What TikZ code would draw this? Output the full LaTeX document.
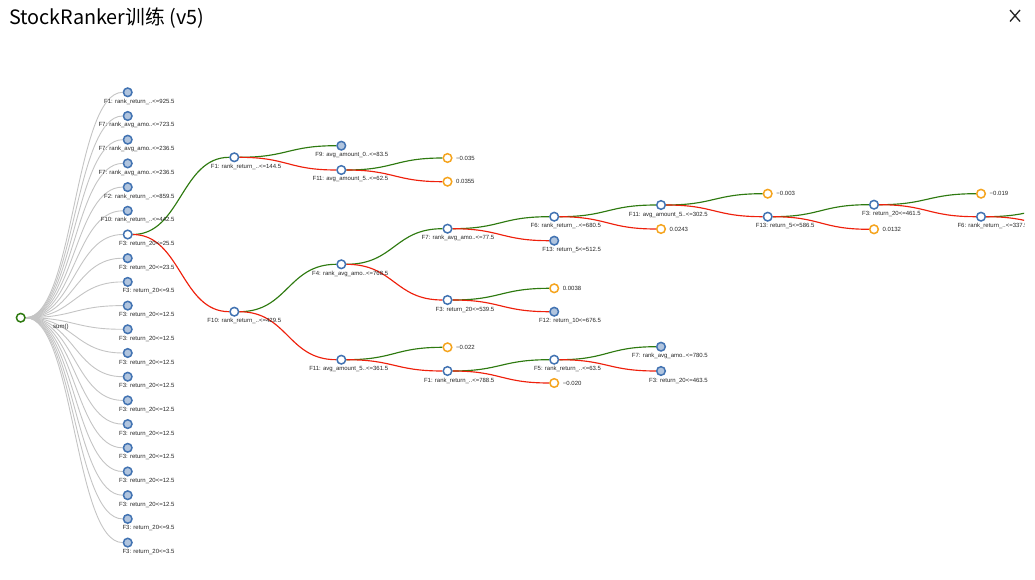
\documentclass[tikz,border=0pt]{standalone}
\usepackage{fontspec}
\setmainfont{Liberation Sans}
\newfontfamily\cjk{Noto Sans CJK SC}
\usetikzlibrary{calc,backgrounds}

\definecolor{yescol}{RGB}{46,122,16}
\definecolor{nocol}{RGB}{238,32,12}
\definecolor{nodeblue}{RGB}{66,115,178}
\definecolor{nodefill}{RGB}{176,196,222}
\definecolor{leafcol}{RGB}{245,164,30}
\definecolor{edgegray}{RGB}{196,196,196}

\begin{document}
\begin{tikzpicture}[x=1pt, y=-1pt,
  every node/.style={inner sep=0pt, text=black!85},
  split/.style={circle, draw=nodeblue, fill=white, line width=1.5pt, minimum size=8.6pt},
  feat/.style={split, fill=nodefill},
  leaf/.style={split, draw=leafcol},
  rootnode/.style={split, draw=yescol},
  lbl/.style={font=\fontsize{6}{7}\selectfont, anchor=base east},
  val/.style={font=\fontsize{6}{7}\selectfont, anchor=base west},
  yes/.style={draw=yescol, line width=1.15pt},
  no/.style={draw=nocol, line width=1.15pt},
  grey/.style={draw=edgegray, line width=0.9pt},
  diag/.style={to path={let \p1=(\tikztostart), \p2=(\tikztotarget) in
    .. controls ({(\x1+\x2)/2},\y1) and ({(\x1+\x2)/2},\y2) .. (\tikztotarget)}},
  col7/.style={fill=white}]
\useasboundingbox (0,0) rectangle (1035,580);
\clip (0,0) rectangle (1024,580);

% title and close mark
\node[anchor=base west, font=\cjk\fontsize{19.8}{24}\selectfont, text=black] (title) at (9,25) {StockRanker训练 (v5)};
\draw[line width=1.3pt, black!85] (1010,10) -- (1020,21.5) (1020,10) -- (1010,21.5);

% root and first column
\node[rootnode] (root) at (20.7,317.7) {};
\node[val] (sumt) at (53,328) {sum()};
\foreach \t [count=\i] in {F1: rank\_return\_..<=925.5, F7: rank\_avg\_amo..<=723.5,
  F7: rank\_avg\_amo..<=236.5, F7: rank\_avg\_amo..<=236.5, F2: rank\_return\_..<=859.5,
  F10: rank\_return\_..<=442.5, F3: return\_20<=25.5, F3: return\_20<=23.5,
  F3: return\_20<=9.5, F3: return\_20<=12.5, F3: return\_20<=12.5, F3: return\_20<=12.5,
  F3: return\_20<=12.5, F3: return\_20<=12.5, F3: return\_20<=12.5, F3: return\_20<=12.5,
  F3: return\_20<=12.5, F3: return\_20<=12.5, F3: return\_20<=9.5, F3: return\_20<=3.5} {
  \node[feat, col\i/.try] (c\i) at (127.7,{92.3+23.7*(\i-1)}) {};
  \node[lbl] (cl\i) at ($(c\i)+(47,11)$) {\t};
}

% split nodes of the tree
\foreach \n/\x/\y/\s/\t in {b1/234.3/157.3/split/F1: rank\_return\_..<=144.5,
  b2/234.3/311.7/split/F10: rank\_return\_..<=429.5,
  d1/341.3/145.7/feat/F9: avg\_amount\_0..<=83.5,
  d2/341.3/170/split/F11: avg\_amount\_5..<=62.5,
  d3/341.3/264.3/split/F4: rank\_avg\_amo..<=768.5,
  d4/341.3/359.7/split/F11: avg\_amount\_5..<=361.5,
  e3/447.5/228.7/split/F7: rank\_avg\_amo..<=77.5,
  e4/447.5/300/split/F3: return\_20<=539.5,
  e6/447.5/371/split/F1: rank\_return\_..<=788.5,
  f1/554.2/216.7/split/F6: rank\_return\_..<=680.5,
  f2/554.2/240.7/feat/F13: return\_5<=512.5,
  f4/554.2/311.7/feat/F12: return\_10<=676.5,
  f5/554.2/359.7/split/F5: rank\_return\_..<=63.5,
  g1/661/205/split/F11: avg\_amount\_5..<=302.5,
  g3/661/346.7/feat/F7: rank\_avg\_amo..<=780.5,
  g4/661/371/feat/F3: return\_20<=463.5,
  h2/767.7/216.7/split/F13: return\_5<=586.5,
  i1/874/204.7/split/F3: return\_20<=461.5,
  j2/981/216.7/split/F6: rank\_return\_..<=337.5} {
  \node[\s] (\n) at (\x,\y) {};
  \node[lbl] (\n l) at ($(\n)+(47,11)$) {\t};
}

% leaves
\foreach \n/\x/\y/\t in {e1/447.5/158/−0.035, e2/447.5/181.7/0.0355, e5/447.5/347.3/−0.022,
  f3/554.2/288.3/0.0038, f6/554.2/383/−0.020, g2/661/229/0.0243,
  h1/767.7/193.7/−0.003, i2/874/229.3/0.0132, j1/981/193.7/−0.019} {
  \node[leaf] (\n) at (\x,\y) {};
  \node[val] (\n l) at ($(\n)+(8.5,2.2)$) {\t};
}
\coordinate (k1) at (1088,205);
\coordinate (k2) at (1088,229);

\begin{scope}[on background layer]
\clip (0,0) rectangle (1024,580);
\foreach \i in {1,...,20} \draw[grey] (root) to[diag] (c\i);
\foreach \a/\b in {c7/b1, b1/d1, d2/e1, b2/d3, d3/e3, e3/f1, f1/g1, g1/h1, h2/i1,
  i1/j1, j2/k1, e4/f3, d4/e5, e6/f5, f5/g3}
  \draw[yes] (\a) to[diag] (\b);
\foreach \a/\b in {c7/b2, b1/d2, d2/e2, b2/d4, d3/e4, e3/f2, f1/g2, g1/h2, h2/i2,
  i1/j2, j2/k2, e4/f4, d4/e6, e6/f6, f5/g4}
  \draw[no] (\a) to[diag] (\b);
\end{scope}
\end{tikzpicture}
\end{document}
